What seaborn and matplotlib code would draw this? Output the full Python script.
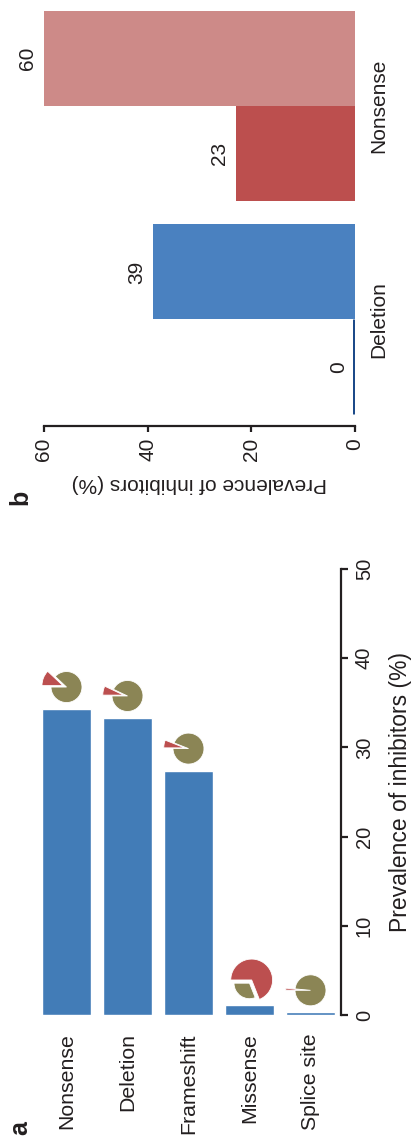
import numpy as np
import pandas as pd
import matplotlib
matplotlib.use("Agg")
import matplotlib.pyplot as plt
import seaborn as sns

# ---------------- data ----------------
# Panel a: prevalence of inhibitors by mutation type (%)
mutation_types = ["Nonsense", "Deletion", "Frameshift", "Missense", "Splice site"]
inhibitor_prevalence = [34.3, 33.3, 27.4, 1.1, 0.3]
# Panel a: share of the red slice in each small pie (%)
pie_red_share = [12, 7, 6, 69, 1.5]
a_ticks = [0, 10, 20, 30, 40, 50]

# Panel b: prevalence of inhibitors in two subgroups per mutation type (%)
b_categories = ["Nonsense", "Deletion"]
b_subgroups = ["Subgroup 1", "Subgroup 2"]
b_values_sub1 = [60, 39]
b_values_sub2 = [23, 0]
b_ticks = [0, 20, 40, 60]

axis_label = "Prevalence of inhibitors (%)"

# ---------------- style ----------------
BLUE_A = "#427CB7"
OLIVE = "#8B8555"
RED = "#BC4F4F"
B_COLORS = {"Nonsense": ["#CD8A88", "#BC4F4E"],
            "Deletion": ["#4A81C0", "#1C4A89"]}
INK = "#231F20"

sns.set_theme(style="white")
plt.rcParams["font.family"] = ["Liberation Sans", "DejaVu Sans"]
plt.rcParams["text.color"] = INK
plt.rcParams["axes.labelcolor"] = INK
plt.rcParams["xtick.color"] = INK
plt.rcParams["ytick.color"] = INK

W, H = 411, 1139
fig = plt.figure(figsize=(W / 100, H / 100), dpi=100)

# ---------------- panel a ----------------
a_left, a_bottom, a_w, a_h = 36, 124, 305, 446
axa = fig.add_axes([a_left / W, a_bottom / H, a_w / W, a_h / H])
sns.barplot(x=mutation_types, y=inhibitor_prevalence, order=mutation_types,
            color=BLUE_A, saturation=1, width=0.8, errorbar=None, ax=axa)
axa.set_xlim(-0.5, len(mutation_types) - 0.5)
axa.set_ylim(a_ticks[0], a_ticks[-1])
axa.set_yticks(a_ticks)
axa.yaxis.tick_right()
axa.yaxis.set_label_position("right")
for s in ["top", "left", "bottom"]:
    axa.spines[s].set_visible(False)
axa.spines["right"].set_linewidth(1.6)
axa.spines["right"].set_color(INK)
axa.tick_params(axis="y", which="both", right=True, left=False, direction="out",
                length=5, width=1.6, pad=5, labelsize=14.5, labelrotation=90)
for lbl in axa.get_yticklabels():
    lbl.set_va("center")
axa.tick_params(axis="x", length=0, pad=13, labelsize=15.3, labelrotation=90)
axa.set_xlabel("")
axa.set_ylabel(axis_label, fontsize=16.5, labelpad=11)

# small pies on top of the bars
px_per_x = a_w / len(mutation_types)
px_per_y = a_h / (a_ticks[-1] - a_ticks[0])
R_PX = 15.5
LIM = 1.8
box_px = 2 * LIM * R_PX
for i, (v, r) in enumerate(zip(inhibitor_prevalence, pie_red_share)):
    cy = v + 22 / px_per_y
    bw = box_px / px_per_x
    bh = box_px / px_per_y
    pax = axa.inset_axes([i - bw / 2, cy - bh / 2, bw, bh], transform=axa.transData)
    wedges, _ = pax.pie([r, 100 - r], colors=[RED, OLIVE], startangle=180,
                        counterclock=False, explode=[0.25, 0],
                        wedgeprops=dict(edgecolor="white", linewidth=0.6))
    wedges[0].set_radius(1.35)
    pax.set_xlim(-LIM, LIM)
    pax.set_ylim(-LIM, LIM)
    pax.axis("off")

# ---------------- panel b ----------------
b_left, b_top, b_w, b_h = 44, -0.5, 311, 426.5
axb = fig.add_axes([b_left / W, (H - b_top - b_h) / H, b_w / W, b_h / H])
df_b = pd.DataFrame({
    "mutation": b_categories * 2,
    "subgroup": [b_subgroups[0]] * len(b_categories) + [b_subgroups[1]] * len(b_categories),
    "value": b_values_sub1 + b_values_sub2,
})
sns.barplot(data=df_b, x="value", y="mutation", hue="subgroup", orient="h",
            order=b_categories, hue_order=b_subgroups, width=0.89, saturation=1,
            errorbar=None, legend=False, palette=["#999999", "#555555"], ax=axb)
axb.set_xlim(b_ticks[-1], b_ticks[0])
for j, cont in enumerate(axb.containers):
    for i, patch in enumerate(cont.patches):
        c = B_COLORS[b_categories[i]][j]
        patch.set_facecolor(c)
        if patch.get_width() == 0:
            patch.set_edgecolor(c)
            patch.set_linewidth(3.6)
        else:
            patch.set_linewidth(0)
for cont in axb.containers:
    texts = axb.bar_label(cont, labels=[f"{p.get_width():g}" for p in cont.patches],
                          padding=5, rotation=90, fontsize=15, color=INK)
    for t in texts:
        t.set_ha("right")
        t.set_va("center")

axb.set_xticks(b_ticks)
for s in ["top", "left", "right"]:
    axb.spines[s].set_visible(False)
axb.spines["bottom"].set_linewidth(1.6)
axb.spines["bottom"].set_color(INK)
axb.tick_params(axis="x", bottom=True, direction="out", length=4.5, width=1.6,
                pad=4, labelsize=15, labelrotation=90)
axb.yaxis.tick_right()
axb.tick_params(axis="y", length=0, pad=10, labelsize=15, labelrotation=90)
for lbl in axb.get_yticklabels():
    lbl.set_va("center")
axb.set_ylabel("")
axb.set_xlabel(axis_label, fontsize=15, rotation=180, labelpad=9)

# panel letters
fig.text(20 / W, 1 - 1128 / H, "a", rotation=90, fontsize=18, fontweight="bold",
         ha="center", va="center")
fig.text(20 / W, 1 - 497 / H, "b", rotation=90, fontsize=18, fontweight="bold",
         ha="center", va="center")

fig.savefig("out.png", dpi=100)
